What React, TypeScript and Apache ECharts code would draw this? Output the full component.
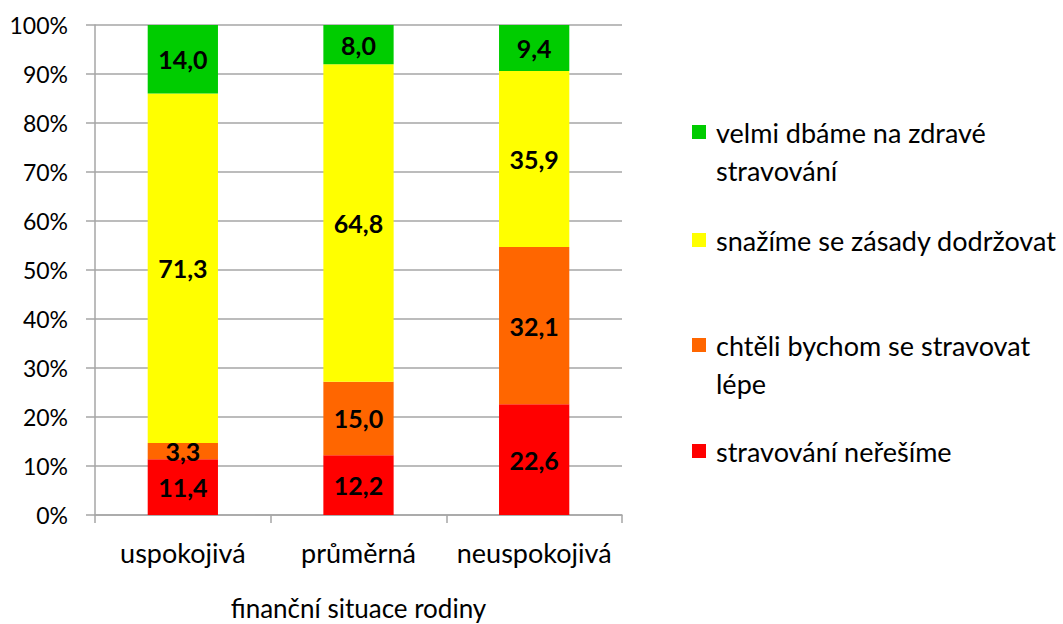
import React, { useEffect, useRef } from "react";
import * as echarts from "echarts";

const categories = ["uspokojivá", "průměrná", "neuspokojivá"];
const seriesNames = [
  "stravování neřešíme",
  "chtěli bychom se stravovat lépe",
  "snažíme se zásady dodržovat",
  "velmi dbáme na zdravé stravování",
];
const legendLabels = [
  "stravování neřešíme",
  "chtěli bychom se stravovat\nlépe",
  "snažíme se zásady dodržovat",
  "velmi dbáme na zdravé\nstravování",
];
const redValues = [11.4, 12.2, 22.6];
const orangeValues = [3.3, 15.0, 32.1];
const yellowValues = [71.3, 64.8, 35.9];
const greenValues = [14.0, 8.0, 9.4];
const seriesValues = [redValues, orangeValues, yellowValues, greenValues];
const colors = ["#FF0000", "#FF6600", "#FFFF00", "#00CC00"];
const xAxisTitle = "finanční situace rodiny";

const FONT = "Lato";

export default function App() {
  const ref = useRef<HTMLDivElement>(null);
  useEffect(() => {
    if (!ref.current) return;
    const chart = echarts.init(ref.current, null, { renderer: "svg" });
    const legendY = [451, 345, 240, 132];
    const graphics: any[] = [];
    seriesNames.forEach((n, i) => {
      graphics.push({
        type: "rect",
        shape: { x: 692, y: legendY[i] - 7, width: 14, height: 14 },
        style: { fill: colors[i] },
      });
      graphics.push({
        type: "text",
        x: 716,
        y: legendY[i] - 19,
        style: {
          text: legendLabels[i],
          font: `27px "${FONT}"`,
          fill: "#000",
          lineHeight: 38,
          verticalAlign: "top",
        },
      });
    });
    chart.setOption({
      animation: false,
      grid: {
        left: 95,
        right: 441,
        top: 25,
        bottom: 109,
        containLabel: false,
        outerBoundsMode: "none",
      },
      xAxis: {
        type: "category",
        data: categories,
        name: xAxisTitle,
        nameLocation: "middle",
        nameGap: 80,
        nameTextStyle: { fontFamily: FONT, fontSize: 26, color: "#000", lineHeight: 26 },
        axisLine: { show: true, lineStyle: { color: "#A6A6A6", width: 1.5 } },
        axisTick: { show: true, length: 8, lineStyle: { color: "#A6A6A6", width: 1.5 } },
        axisLabel: { fontFamily: FONT, fontSize: 27, color: "#000", margin: 24, interval: 0 },
      },
      yAxis: {
        type: "value",
        min: 0,
        max: 100,
        interval: 10,
        axisLine: { show: true, lineStyle: { color: "#A6A6A6", width: 1.5 } },
        axisTick: { show: true, length: 9, lineStyle: { color: "#A6A6A6", width: 1.5 } },
        splitLine: { show: true, lineStyle: { color: "#A6A6A6", width: 1.5 } },
        axisLabel: {
          fontFamily: FONT,
          fontSize: 23,
          color: "#000",
          margin: 27,
          formatter: (v: number) => `${v}%`,
        },
      },
      series: seriesNames.map((n, i) => ({
        name: n,
        type: "bar",
        stack: "total",
        barWidth: "40%",
        data: seriesValues[i],
        itemStyle: { color: colors[i] },
        label: {
          show: true,
          position: "inside",
          fontFamily: FONT,
          fontSize: 25,
          fontWeight: "bold",
          color: "#000",
          formatter: (p: any) => p.value.toFixed(1).replace(".", ","),
        },
      })),
      graphic: graphics,
    });
    return () => chart.dispose();
  }, []);
  return <div ref={ref} style={{ width: 1063, height: 624, position: "absolute", left: 0, top: 0 }} />;
}
